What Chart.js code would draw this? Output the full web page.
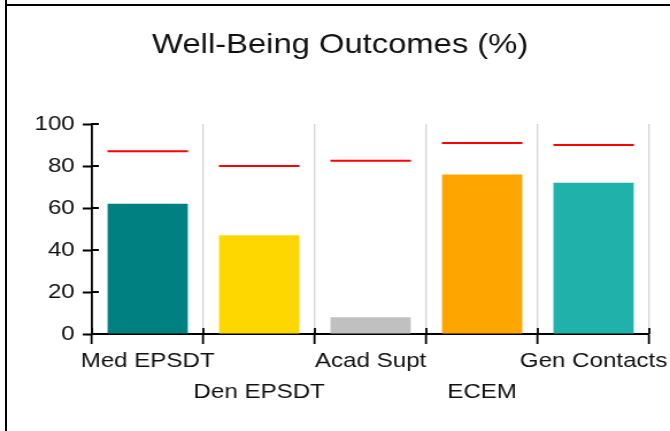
<!DOCTYPE html>
<html>
<head>
<meta charset="utf-8">
<script src="https://cdn.jsdelivr.net/npm/chart.js@4.4.1/dist/chart.umd.min.js"></script>
<style>
  html, body { margin: 0; padding: 0; background: #fff; }
  #wrap { position: relative; width: 670px; height: 431px; overflow: hidden; }
  .frame-v { position: absolute; left: 5px; top: 0; width: 2px; height: 431px; background: #000; }
  .frame-h { position: absolute; left: 5px; top: 4px; width: 665px; height: 2px; background: #000; }
  #chart { position: absolute; left: 0; top: 0; }
</style>
</head>
<body>
<div id="wrap">
  <div class="frame-v"></div>
  <div class="frame-h"></div>
  <!-- drawn narrower, shown at full width: the original text is a bit stretched sideways -->
  <canvas id="chart" width="583" height="431" style="width:670px;height:431px"></canvas>
</div>
<script>
// DATA
const categories = ["Med EPSDT", "Den EPSDT", "Acad Supt", "ECEM", "Gen Contacts"];
const outcomes = [62, 47, 8, 76, 72];
const targets = [87, 80, 82.5, 91, 90];
const barColors = ["#008080", "#FFD700", "#C0C0C0", "#FFA500", "#20B2AA"];
const yTicks = [0, 20, 40, 60, 80, 100];

const FONT = "Arial, 'Liberation Sans', sans-serif";

// every other label drops to a second row
const xLabels = categories.map((c, i) => (i % 2 ? ["", c] : c));

// tick marks also poke a little into the plot
const innerTicks = {
  id: "innerTicks",
  afterDraw(chart) {
    const { ctx, chartArea } = chart;
    const x = chart.scales.x;
    const y = chart.scales.y;
    ctx.save();
    ctx.strokeStyle = "#000";
    ctx.lineWidth = 2;
    y.ticks.forEach((t, i) => {
      const py = y.getPixelForTick(i);
      ctx.beginPath();
      ctx.moveTo(chartArea.left, py);
      ctx.lineTo(chartArea.left + 6, py);
      ctx.stroke();
    });
    ctx.lineWidth = 1.8;
    const step = x.width / categories.length;
    for (let i = 0; i <= categories.length; i++) {
      const px = x.left + i * step;
      ctx.beginPath();
      ctx.moveTo(px, chartArea.bottom);
      ctx.lineTo(px, chartArea.bottom - 6);
      ctx.stroke();
    }
    ctx.restore();
  },
};

let chartctx = document.getElementById("chart").getContext("2d");
new Chart(chartctx, {
  type: "bar",
  data: {
    labels: xLabels,
    datasets: [
      {
        type: "line",
        label: "Target",
        data: targets,
        showLine: false,
        pointStyle: "line",
        pointRadius: 35,
        pointHoverRadius: 35,
        pointBorderColor: "#FF0000",
        pointBackgroundColor: "#FF0000",
        pointBorderWidth: 2,
      },
      {
        label: "Outcome",
        data: outcomes,
        backgroundColor: barColors,
        categoryPercentage: 0.9,
        barPercentage: 0.8,
      },
    ],
  },
  options: {
    responsive: false,
    animation: false,
    // the wide target markers would otherwise push the plot in
    layout: { autoPadding: false, padding: { left: 9, right: 0, top: 0, bottom: 0 } },
    plugins: {
      legend: { display: false },
      tooltip: { enabled: false },
      title: {
        display: true,
        text: "Well-Being Outcomes (%)",
        color: "#111",
        font: { family: FONT, size: 28.5, weight: "normal" },
        padding: { top: 28, bottom: 61.8 },
      },
    },
    scales: {
      x: {
        grid: {
          color: "#d4d4d4",
          lineWidth: 1.3,
          offset: true,
          tickColor: "#000",
          tickWidth: 1.8,
          tickLength: 10,
        },
        border: { color: "#000", width: 2 },
        ticks: {
          color: "#111",
          font: { family: FONT, size: 21, lineHeight: "31px" },
          padding: 2,
          autoSkip: false,
          maxRotation: 0,
          minRotation: 0,
        },
        afterFit(scale) {
          scale.height = 97;
          scale.paddingLeft = 0;
          scale.paddingRight = 18;
        },
      },
      y: {
        min: 0,
        max: 100,
        grid: { drawOnChartArea: false, tickColor: "#000", tickWidth: 2, tickLength: 8 },
        border: { color: "#000", width: 1.8 },
        ticks: { color: "#111", font: { family: FONT, size: 21 }, padding: 7 },
        afterBuildTicks(scale) {
          scale.ticks = yTicks.map(v => ({ value: v }));
        },
        afterFit(scale) {
          scale.width = 71;
          scale.paddingTop = 0;
          scale.paddingBottom = 0;
        },
      },
    },
  },
  plugins: [innerTicks],
});
</script>
</body>
</html>
